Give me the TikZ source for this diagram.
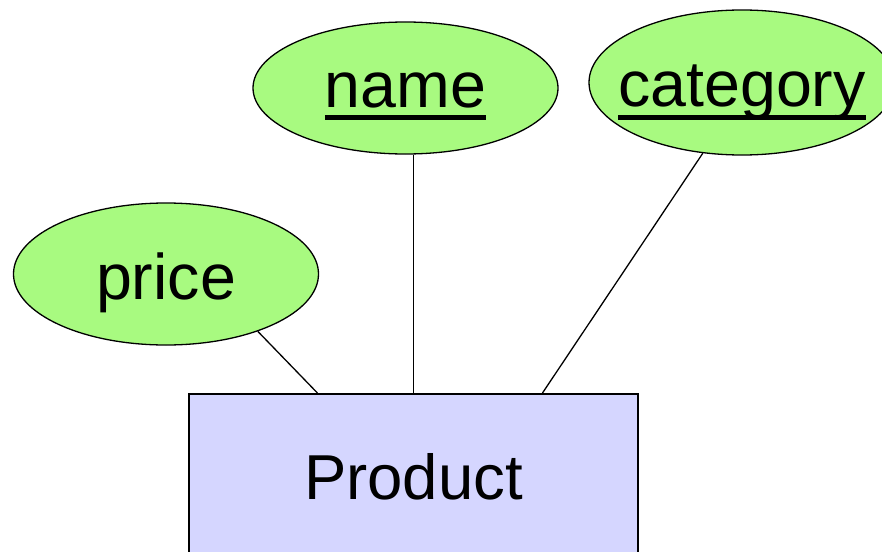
\documentclass[tikz,border=0pt]{standalone}
\usepackage{fontspec}
\setmainfont{Liberation Sans}
\usetikzlibrary{shapes.geometric,calc}
\definecolor{attrgreen}{RGB}{168,250,128}
\definecolor{entblue}{RGB}{213,214,255}
\newcommand\keyattr[1]{\setbox0\hbox{#1}\rlap{\raisebox{-13pt}{\rule{\wd0}{5pt}}}\box0}
\begin{document}
\begin{tikzpicture}[x=1pt,y=-1pt,
  attr/.style={ellipse, draw=black, line width=1.3pt, fill=attrgreen, inner sep=0pt,
    font=\fontsize{64.5}{72}\selectfont, text depth=0pt},
  entity/.style={rectangle, draw=black, line width=2pt, fill=entblue, inner sep=0pt,
    font=\fontsize{63.5}{72}\selectfont, text depth=0pt},
  link/.style={draw=black, line width=1.3pt}]
\clip (0,0) rectangle (882,551);
\node[attr, minimum width=305pt, minimum height=142pt, text height=50pt] (price) at (166,274) {price};
\node[attr, minimum width=305pt, minimum height=132pt, text height=38pt] (name) at (405.5,88) {\makebox[0pt]{\keyattr{name}}};
\node[attr, minimum width=306pt, minimum height=145pt, text height=48pt] (category) at (742,82.5) {\makebox[0pt]{\keyattr{category}}};
\node[entity, minimum width=449pt, minimum height=200pt, text height=10pt] (product) at (413.5,494) {Product};
\draw[link] (price.-32) -- ($(product.north west)!0.287!(product.north east)$);
\draw[link] (product.north) -- (product.north |- name.south);
\draw[link] (category.241) -- ($(product.north west)!0.786!(product.north east)$);
\end{tikzpicture}
\end{document}
